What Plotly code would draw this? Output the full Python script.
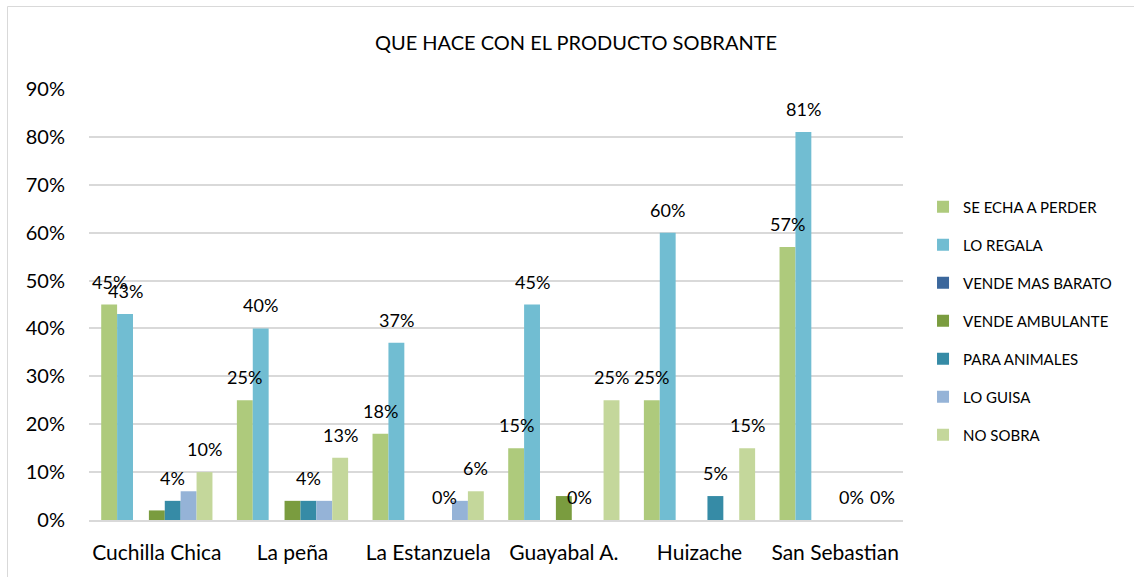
import plotly.graph_objects as go

categories = ["Cuchilla Chica", "La peña", "La Estanzuela", "Guayabal A.", "Huizache", "San Sebastian"]
series_names = ["SE ECHA A PERDER", "LO REGALA", "VENDE MAS BARATO", "VENDE AMBULANTE",
                "PARA ANIMALES", "LO GUISA", "NO SOBRA"]
se_echa_a_perder = [0.45, 0.25, 0.18, 0.15, 0.25, 0.57]
lo_regala = [0.43, 0.40, 0.37, 0.45, 0.60, 0.81]
vende_mas_barato = [0.0, 0.0, 0.0, 0.0, 0.0, 0.0]
vende_ambulante = [0.02, 0.04, 0.0, 0.05, 0.0, 0.0]
para_animales = [0.04, 0.04, 0.0, 0.0, 0.05, 0.0]
lo_guisa = [0.06, 0.04, 0.04, 0.0, 0.0, 0.0]
no_sobra = [0.10, 0.13, 0.06, 0.25, 0.15, 0.0]

values = [se_echa_a_perder, lo_regala, vende_mas_barato, vende_ambulante,
          para_animales, lo_guisa, no_sobra]
colors = ["#AECA7C", "#71BDD2", "#3B679C", "#7A9C3F", "#368BA6", "#95B3D7", "#C4D79B"]
labeled = [True, True, False, False, True, False, True]

FONT = "Lato"
W, H = 1134, 577
ML, MR, MT, MB = 89, 231, 89, 57
BARGAP = 0.18
n_series = len(series_names)
plot_w = W - ML - MR
bar_px = plot_w / len(categories) * (1 - BARGAP) / n_series

fig = go.Figure()
for i, (name, vals) in enumerate(zip(series_names, values)):
    fig.add_trace(go.Bar(
        x=categories, y=vals, name=name,
        marker=dict(color=colors[i], line=dict(width=0)),
        legendgroup=name,
    ))
    if labeled[i]:
        for cat, v in zip(categories, vals):
            fig.add_annotation(
                x=cat, y=v, xref="x", yref="y",
                text=f"{round(v * 100)}%", showarrow=False,
                xshift=(i - (n_series - 1) / 2) * bar_px, yshift=23,
                xanchor="center", yanchor="middle",
                font=dict(family=FONT, size=18, color="#000000"),
            )

fig.update_layout(
    width=W, height=H,
    barmode="group", bargap=BARGAP, bargroupgap=0,
    plot_bgcolor="white", paper_bgcolor="white",
    margin=dict(l=ML, r=MR, t=MT, b=MB, autoexpand=False),
    title=dict(text="QUE HACE CON EL PRODUCTO SOBRANTE", x=576 / W, xanchor="center",
               y=1 - 43 / H, yanchor="middle",
               font=dict(family=FONT, size=20, color="#000000")),
    font=dict(family=FONT, color="#000000"),
    legend=dict(x=1.0246, xanchor="left", y=0.7643, yanchor="top",
                font=dict(family=FONT, size=15, color="#000000"),
                tracegroupgap=15.5, itemwidth=30, traceorder="grouped"),
    showlegend=True,
)
fig.update_yaxes(range=[0, 0.9], dtick=0.1, tickformat=".0%",
                 showgrid=True, gridcolor="#D9D9D9", gridwidth=1.5,
                 zeroline=False, showline=False, ticks="",
                 ticklabelstandoff=23,
                 tickfont=dict(family=FONT, size=20, color="#000000"))
fig.update_xaxes(showline=True, linecolor="#D9D9D9", linewidth=1.5, ticks="",
                 ticklabelstandoff=13,
                 tickfont=dict(family=FONT, size=21, color="#000000"))
fig.add_shape(type="rect", xref="paper", yref="paper",
              x0=(7.5 - ML) / plot_w, x1=1.35, y0=-0.2, y1=1 + (MT - 6.5) / (H - MT - MB),
              line=dict(color="#D9D9D9", width=1), fillcolor="rgba(0,0,0,0)", layer="below")

fig.write_html("out.html", config={"displayModeBar": False},
               post_script="document.body.style.margin='0';")
